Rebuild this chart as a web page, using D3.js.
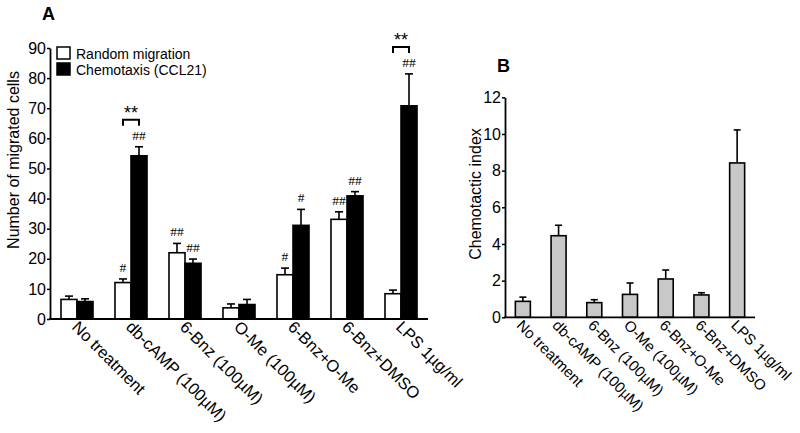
<!DOCTYPE html>
<html>
<head>
<meta charset="utf-8">
<script src="https://cdn.jsdelivr.net/npm/d3@7"></script>
<style>
  body { margin: 0; background: #fff; }
  svg { font-family: "Liberation Sans", Arial, sans-serif; }
</style>
</head>
<body>
<svg id="chart" width="800" height="433"></svg>
<script>
// Data
const groups = ["No treatment", "db-cAMP (100µM)", "6-Bnz (100µM)", "O-Me (100µM)", "6-Bnz+O-Me", "6-Bnz+DMSO", "LPS 1µg/ml"];

// Panel A: number of migrated cells
const randomMean = [6.5, 12.1, 22.0, 3.7, 14.7, 33.1, 8.4];
const randomErr = [1.1, 1.2, 3.1, 1.3, 2.2, 2.5, 1.2];
const chemoMean = [5.8, 54.2, 18.5, 4.8, 31.1, 40.9, 70.8];
const chemoErr = [0.9, 3.0, 1.4, 1.7, 5.3, 1.4, 10.6];
const randomSig = ["", "#", "##", "", "#", "##", ""];
const chemoSig = ["", "##", "##", "", "#", "##", "##"];
const starGroups = ["db-cAMP (100µM)", "LPS 1µg/ml"];
const ticksA = [0, 10, 20, 30, 40, 50, 60, 70, 80, 90];

// Panel B: chemotactic index
const indexMean = [0.87, 4.45, 0.8, 1.25, 2.09, 1.22, 8.42];
const indexErr = [0.23, 0.57, 0.16, 0.62, 0.49, 0.12, 1.8];
const ticksB = [0, 2, 4, 6, 8, 10, 12];

const svg = d3.select("#chart");

// ---------- Panel A ----------
const xA = d3.scaleBand().domain(groups).range([50, 428]).paddingInner(0.407).paddingOuter(0.2035);
const subA = d3.scaleBand().domain(["random", "chemo"]).range([0, xA.bandwidth()]);
const yA = d3.scaleLinear().domain([0, 90]).range([319, 48]);

const gA = svg.append("g");

const rowsA = groups.map((g, i) => ({
  group: g,
  bars: [
    { key: "random", mean: randomMean[i], err: randomErr[i], sig: randomSig[i], fill: "#fff" },
    { key: "chemo", mean: chemoMean[i], err: chemoErr[i], sig: chemoSig[i], fill: "#000" }
  ]
}));

const grpA = gA.selectAll("g.grp")
  .data(rowsA)
  .enter()
  .append("g")
  .attr("class", "grp")
  .attr("transform", d => "translate(" + xA(d.group) + ",0)");

const barA = grpA.selectAll("g.bar")
  .data(d => d.bars)
  .enter()
  .append("g")
  .attr("class", "bar");

// error bars (upper only)
barA.append("line")
  .attr("x1", d => subA(d.key) + subA.bandwidth() / 2)
  .attr("x2", d => subA(d.key) + subA.bandwidth() / 2)
  .attr("y1", d => yA(d.mean))
  .attr("y2", d => yA(d.mean + d.err))
  .attr("stroke", "#000")
  .attr("stroke-width", 1.6);
barA.append("line")
  .attr("x1", d => subA(d.key) + subA.bandwidth() / 2 - 4)
  .attr("x2", d => subA(d.key) + subA.bandwidth() / 2 + 4)
  .attr("y1", d => yA(d.mean + d.err))
  .attr("y2", d => yA(d.mean + d.err))
  .attr("stroke", "#000")
  .attr("stroke-width", 1.6);

barA.append("rect")
  .attr("x", d => subA(d.key))
  .attr("y", d => yA(d.mean))
  .attr("width", subA.bandwidth())
  .attr("height", d => yA(0) - yA(d.mean))
  .attr("fill", d => d.fill)
  .attr("stroke", "#000")
  .attr("stroke-width", 1.6);

// # significance marks
barA.append("text")
  .attr("x", d => subA(d.key) + subA.bandwidth() / 2)
  .attr("y", d => yA(d.mean + d.err) - 7)
  .attr("text-anchor", "middle")
  .style("font-family", "'Liberation Serif', 'DejaVu Serif', serif")
  .style("font-size", "13.5px")
  .text(d => d.sig);

// ** brackets between random and chemo
const starA = gA.selectAll("g.star")
  .data(rowsA.filter(d => starGroups.includes(d.group)))
  .enter()
  .append("g")
  .attr("class", "star")
  .attr("transform", d => "translate(" + xA(d.group) + ",0)");

starA.append("path")
  .attr("d", d => {
    const top = yA(d.bars[1].mean + d.bars[1].err) - 27;
    const x1 = subA("random") + subA.bandwidth() / 2;
    const x2 = subA("chemo") + subA.bandwidth() / 2;
    return "M" + x1 + "," + (top + 6) + "V" + top + "H" + x2 + "V" + (top + 6);
  })
  .attr("fill", "none")
  .attr("stroke", "#000")
  .attr("stroke-width", 2);

starA.append("text")
  .attr("x", xA.bandwidth() / 2)
  .attr("y", d => yA(d.bars[1].mean + d.bars[1].err) - 28)
  .attr("text-anchor", "middle")
  .style("font-size", "18px")
  .text("**");

// axes
const axisA = gA.append("g")
  .attr("transform", "translate(50,0)")
  .call(d3.axisLeft(yA).tickValues(ticksA).tickSize(3).tickSizeOuter(0).tickPadding(1));
axisA.select(".domain").attr("stroke-width", 1.8);
axisA.selectAll(".tick line").attr("stroke-width", 1.5);
axisA.selectAll(".tick text").style("font-size", "16px").style("font-family", "'Liberation Sans', Arial, sans-serif").attr("fill", "#000");

gA.append("line")
  .attr("x1", 49).attr("x2", 428)
  .attr("y1", yA(0)).attr("y2", yA(0))
  .attr("stroke", "#000").attr("stroke-width", 1.8);

gA.selectAll("text.xlab")
  .data(groups)
  .enter()
  .append("text")
  .attr("class", "xlab")
  .attr("transform", d => "translate(" + (xA(d) + xA.bandwidth() / 2 - 6) + "," + (yA(0) + 9) + ") rotate(45)")
  .style("font-size", "16.5px")
  .text(d => d);

gA.append("text")
  .attr("transform", "translate(19,160) rotate(-90)")
  .attr("text-anchor", "middle")
  .style("font-size", "16px")
  .text("Number of migrated cells");

gA.append("text")
  .attr("x", 42).attr("y", 20)
  .style("font-size", "18px").style("font-weight", "bold")
  .text("A");

// legend
const legendA = gA.append("g").attr("transform", "translate(57,47)");
[["Random migration", "#fff"], ["Chemotaxis (CCL21)", "#000"]].forEach((d, i) => {
  legendA.append("rect")
    .attr("x", 0).attr("y", i * 16)
    .attr("width", 13).attr("height", 12)
    .attr("fill", d[1]).attr("stroke", "#000").attr("stroke-width", 1.5);
  legendA.append("text")
    .attr("x", 19).attr("y", i * 16 + 11.5)
    .style("font-size", "14px")
    .text(d[0]);
});

// ---------- Panel B ----------
const xB = d3.scaleBand().domain(groups).range([505, 755]).paddingInner(0.58).paddingOuter(0.29);
const yB = d3.scaleLinear().domain([0, 12]).range([317.3, 97.3]);
const gB = svg.append("g");

const rowsB = groups.map((g, i) => ({ group: g, mean: indexMean[i], err: indexErr[i] }));

const barB = gB.selectAll("g.bar")
  .data(rowsB)
  .enter()
  .append("g")
  .attr("class", "bar");

barB.append("line")
  .attr("x1", d => xB(d.group) + xB.bandwidth() / 2)
  .attr("x2", d => xB(d.group) + xB.bandwidth() / 2)
  .attr("y1", d => yB(d.mean))
  .attr("y2", d => yB(d.mean + d.err))
  .attr("stroke", "#000").attr("stroke-width", 1.6);
barB.append("line")
  .attr("x1", d => xB(d.group) + xB.bandwidth() / 2 - 3.5)
  .attr("x2", d => xB(d.group) + xB.bandwidth() / 2 + 3.5)
  .attr("y1", d => yB(d.mean + d.err))
  .attr("y2", d => yB(d.mean + d.err))
  .attr("stroke", "#000").attr("stroke-width", 1.6);

barB.append("rect")
  .attr("x", d => xB(d.group))
  .attr("y", d => yB(d.mean))
  .attr("width", xB.bandwidth())
  .attr("height", d => yB(0) - yB(d.mean))
  .attr("fill", "#c8c8c8")
  .attr("stroke", "#000")
  .attr("stroke-width", 1.6);

const axisB = gB.append("g")
  .attr("transform", "translate(505,0)")
  .call(d3.axisLeft(yB).tickValues(ticksB).tickSize(3).tickSizeOuter(0).tickPadding(1));
axisB.select(".domain").attr("stroke-width", 1.8);
axisB.selectAll(".tick line").attr("stroke-width", 1.5);
axisB.selectAll(".tick text").style("font-size", "16px").style("font-family", "'Liberation Sans', Arial, sans-serif").attr("fill", "#000");

gB.append("line")
  .attr("x1", 504).attr("x2", 755)
  .attr("y1", yB(0)).attr("y2", yB(0))
  .attr("stroke", "#000").attr("stroke-width", 1.8);

gB.selectAll("text.xlab")
  .data(groups)
  .enter()
  .append("text")
  .attr("class", "xlab")
  .attr("transform", d => "translate(" + (xB(d) + xB.bandwidth() / 2 - 7) + "," + (yB(0) + 9) + ") rotate(45)")
  .style("font-size", "15px")
  .text(d => d);

gB.append("text")
  .attr("transform", "translate(481,194) rotate(-90)")
  .attr("text-anchor", "middle")
  .style("font-size", "16px")
  .text("Chemotactic index");

gB.append("text")
  .attr("x", 497).attr("y", 72)
  .style("font-size", "18px").style("font-weight", "bold")
  .text("B");
</script>
</body>
</html>
